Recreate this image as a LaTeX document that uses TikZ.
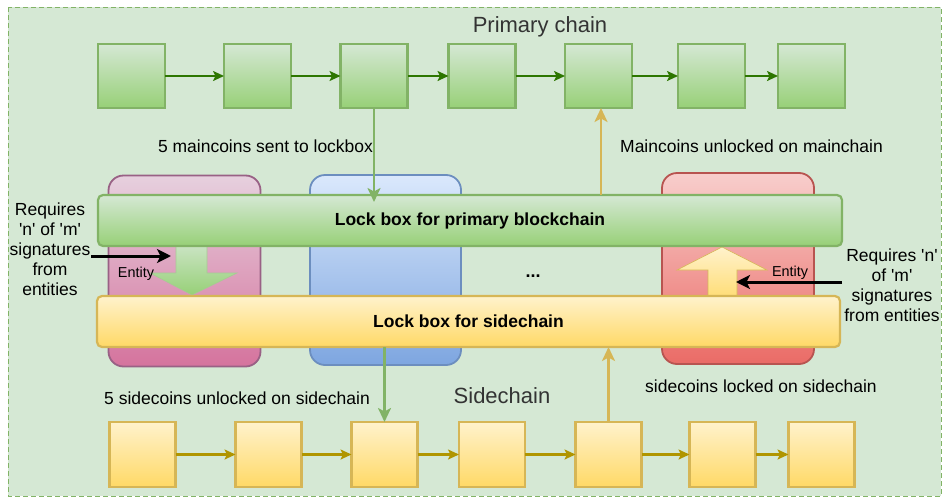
\documentclass[tikz,border=0pt]{standalone}
\usepackage{fontspec}
\setmainfont{Liberation Sans}
\usepackage{tikz}
\usetikzlibrary{arrows.meta, positioning}

\definecolor{bgfill}{HTML}{D5E8D4}
\definecolor{bgline}{HTML}{82B366}
\definecolor{mainlight}{HTML}{D5E8D4}
\definecolor{maindark}{HTML}{97D077}
\definecolor{mainline}{HTML}{82B366}
\definecolor{mainarrow}{HTML}{2D7600}
\definecolor{sidelight}{HTML}{FFF2CC}
\definecolor{sidedark}{HTML}{FFD966}
\definecolor{sideline}{HTML}{D6B656}
\definecolor{sidearrow}{HTML}{B09500}
\definecolor{pinklight}{HTML}{E6D0DE}
\definecolor{pinkdark}{HTML}{D5739D}
\definecolor{pinkline}{HTML}{996185}
\definecolor{bluelight}{HTML}{DAE8FC}
\definecolor{bluedark}{HTML}{7EA6E0}
\definecolor{blueline}{HTML}{6C8EBF}
\definecolor{redlight}{HTML}{F8CECC}
\definecolor{reddark}{HTML}{EA6B66}
\definecolor{redline}{HTML}{B85450}
\definecolor{titlegray}{HTML}{333333}

\newcommand{\fsz}[2]{\fontsize{#1}{#2}\selectfont}
\newcommand{\sq}[1]{\textquotesingle#1\textquotesingle}

\begin{document}
\begin{tikzpicture}[x=1pt, y=-1pt,
            mainblk/.style = {draw=mainline, line width=2.2pt,
                top color=mainlight, bottom color=maindark,
                minimum width=67, minimum height=64, inner sep=0pt, outer sep=0pt},
            sideblk/.style = {draw=sideline, line width=2.2pt,
                top color=sidelight, bottom color=sidedark,
                minimum width=66, minimum height=65, inner sep=0pt, outer sep=0pt},
            chainarr/.style = {line width=2.2pt, -{Stealth[length=11pt,width=10pt,inset=2.5pt]}},
            entbox/.style = {rounded corners=15pt, line width=1.8pt,
                minimum width=152, minimum height=191, inner sep=0pt, outer sep=0pt},
            lockbox/.style = {rounded corners=5pt, line width=2.2pt,
                minimum height=51, inner sep=0pt, outer sep=0pt,
                font=\fsz{17.5}{20}\bfseries},
            linkarr/.style = {line width=2.5pt, -{Stealth[length=14pt,width=13pt,inset=3.5pt]}},
            lbl/.style = {font=\fsz{17.5}{20}, inner sep=0pt},
            ttl/.style = {font=\fsz{22}{26}, text=titlegray, inner sep=0pt}]

        \useasboundingbox (0,0) rectangle (942,498);

        % Background
        \draw[draw=bgline, fill=bgfill, line width=1pt, dash pattern=on 5pt off 3pt]
            (8,7) rectangle (941,496);

        % Titles
        \node[ttl] (ptitle) at (540,27) {Primary chain};
        \node[ttl] (stitle) at (502,396) {Sidechain};

        % Primary chain
        \foreach \x [count=\i] in {131.5,257.5,374,482,598.5,711.5,811.5}
            \node[mainblk] (t\i) at (\x,76) {};
        \foreach \i [count=\j from 2] in {1,...,6}
            \draw[chainarr, mainarrow] (t\i) -- (t\j);

        % Sidechain
        \foreach \x [count=\i] in {142.5,268.5,384.5,492,608.5,722.5,821.5}
            \node[sideblk] (b\i) at (\x,454.5) {};
        \foreach \i [count=\j from 2] in {1,...,6}
            \draw[chainarr, sidearrow] (b\i) -- (b\j);

        % Entities
        \node[entbox, draw=pinkline, top color=pinklight, bottom color=pinkdark] (entA) at (184.5,271) {};
        \node[entbox, draw=blueline, top color=bluelight, bottom color=bluedark, minimum width=151, minimum height=190] (entB) at (385.5,270) {};
        \node[entbox, draw=redline, top color=redlight, bottom color=reddark] (entC) at (738,268.5) {};

        % Block arrows
        \path[draw=mainline!70, line width=0.6pt, top color=mainlight, bottom color=maindark]
            (176,234) -- (207,234) -- (207,273) -- (237,273) -- (192,295)
            -- (150,273) -- (176,273) -- cycle;
        \path[draw=sideline, line width=0.6pt, top color=sidelight, bottom color=sidedark]
            (708,307) -- (737,307) -- (737,270) -- (767,270) -- (722,247)
            -- (677,270) -- (708,270) -- cycle;

        % Lock boxes
        \node[lockbox, draw=mainline, top color=mainlight, bottom color=maindark, minimum width=744] (lockmain) at (470,220.5) {Lock box for primary blockchain};
        \node[lockbox, draw=sideline, top color=sidelight, bottom color=sidedark, minimum width=743] (lockside) at (468.5,321.5) {Lock box for sidechain};

        % Links between chains and lock boxes
        \draw[linkarr, mainline, shorten >=-7pt] (t3.south) -- (t3.south |- lockmain.north);
        \draw[linkarr, sideline] (lockmain.north -| 601,0) -- (601,0 |- t5.south);
        \draw[linkarr, mainline] (lockside.south -| b3) -- (b3.north);
        \draw[linkarr, sideline] (b5.north) -- (b5.north |- lockside.south);

        % Signatures
        \node[lbl, font=\fsz{14.4}{16}] (entLtxt) at (136,274) {Entity};
        \node[lbl, font=\fsz{14.4}{16}] (entRtxt) at (790,273) {Entity};
        \node[lbl, align=center] (reqL) at (50,249)
            {Requires\\\sq{n} of \sq{m}\\signatures\\from\\entities};
        \node[lbl, align=center] (reqR) at (892,285)
            {Requires \sq{n}\\of \sq{m}\\signatures\\from entities};
        \coordinate (sigL) at (171,256);
        \coordinate (sigR) at (736,282);
        \draw[line width=3pt, -{Stealth[length=14pt,width=14pt,inset=3.5pt]}] (91,256) -- (sigL);
        \draw[line width=3pt, -{Stealth[length=14pt,width=14pt,inset=3.5pt]}] (842,282) -- (sigR);

        \node[lbl, font=\fsz{18}{20}\bfseries] (dots) at (533,276) {...};

        % Labels
        \node[lbl] (lbl1) at (265.5,146) {5 maincoins sent to lockbox};
        \node[lbl] (lbl2) at (751.5,146) {Maincoins unlocked on mainchain};
        \node[lbl] (lbl3) at (237,398) {5 sidecoins unlocked on sidechain};
        \node[lbl] (lbl4) at (761,386) {sidecoins locked on sidechain};

\end{tikzpicture}
\end{document}
